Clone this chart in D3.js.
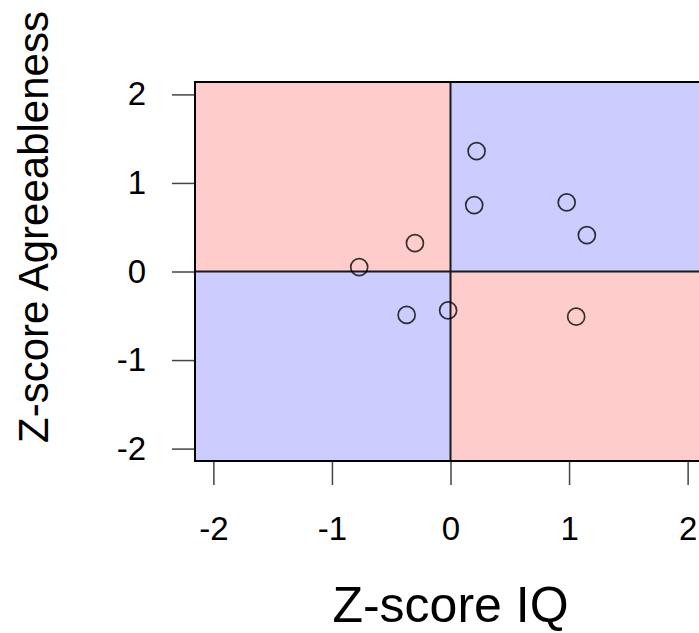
<!DOCTYPE html>
<html>
<head>
<meta charset="utf-8">
<script src="https://cdn.jsdelivr.net/npm/d3@7"></script>
<style>
  html, body { margin: 0; padding: 0; background: #fff; }
  svg { display: block; }
  text { font-family: "Liberation Sans", Arial, Helvetica, sans-serif; fill: #000; }
</style>
</head>
<body>
<svg id="chart" width="699" height="633"></svg>
<script>
// Standardised scores for each participant
const iqZ    = [0.22, 0.20, 0.98, 1.15, -0.30, -0.77, -0.37, -0.02, 1.06];
const agreeZ = [1.36, 0.75, 0.78, 0.41, 0.32, 0.05, -0.49, -0.44, -0.51];

const xTicks = [-2, -1, 0, 1, 2];
const yTicks = [-2, -1, 0, 1, 2];

// Quadrants: same-sign (concordant) in blue, opposite-sign in pink
const quadrants = [
  { x0: -Infinity, x1: 0, y0: 0, y1: Infinity, fill: "#ffcccc" },
  { x0: 0, x1: Infinity, y0: 0, y1: Infinity, fill: "#ccccff" },
  { x0: -Infinity, x1: 0, y0: -Infinity, y1: 0, fill: "#ccccff" },
  { x0: 0, x1: Infinity, y0: -Infinity, y1: 0, fill: "#ffcccc" }
];

const svg = d3.select("#chart");

const x = d3.scaleLinear().domain([-2.155, 2.155]).range([195, 706]);
const y = d3.scaleLinear().domain([-2.14, 2.14]).range([461, 82]);

const [xmin, xmax] = x.domain();
const [ymin, ymax] = y.domain();
const clampX = v => Math.max(xmin, Math.min(xmax, v));
const clampY = v => Math.max(ymin, Math.min(ymax, v));

// Quadrant backgrounds
svg.append("g").selectAll("rect")
  .data(quadrants)
  .join("rect")
  .attr("x", d => x(clampX(d.x0)))
  .attr("y", d => y(clampY(d.y1)))
  .attr("width", d => x(clampX(d.x1)) - x(clampX(d.x0)))
  .attr("height", d => y(clampY(d.y0)) - y(clampY(d.y1)))
  .attr("fill", d => d.fill);

// Zero reference lines
svg.append("line")
  .attr("x1", x(0)).attr("x2", x(0))
  .attr("y1", y(ymin)).attr("y2", y(ymax))
  .attr("stroke", "#1a1a1a").attr("stroke-width", 2);
svg.append("line")
  .attr("x1", x(xmin)).attr("x2", x(xmax))
  .attr("y1", y(0)).attr("y2", y(0))
  .attr("stroke", "#1a1a1a").attr("stroke-width", 2);

// Data points as open circles
svg.append("g").selectAll("circle")
  .data(iqZ.map((v, i) => ({ iq: v, ag: agreeZ[i] })))
  .join("circle")
  .attr("cx", d => x(d.iq))
  .attr("cy", d => y(d.ag))
  .attr("r", 8.5)
  .attr("fill", "none")
  .attr("stroke", "#000")
  .attr("stroke-opacity", 0.78)
  .attr("stroke-width", 1.7);

// Plot frame
svg.append("rect")
  .attr("x", x(xmin)).attr("y", y(ymax))
  .attr("width", x(xmax) - x(xmin))
  .attr("height", y(ymin) - y(ymax))
  .attr("fill", "none")
  .attr("stroke", "#000")
  .attr("stroke-width", 2);

// Axes
const xAxis = svg.append("g")
  .attr("transform", `translate(0,${y(ymin) + 1})`)
  .call(d3.axisBottom(x).tickValues(xTicks).tickFormat(d3.format("d")).tickSize(23).tickPadding(32));
const yAxis = svg.append("g")
  .attr("transform", `translate(${x(xmin) - 1},0)`)
  .call(d3.axisLeft(y).tickValues(yTicks).tickFormat(d3.format("d")).tickSize(22).tickPadding(26));

[xAxis, yAxis].forEach(g => {
  g.attr("font-size", null).attr("font-family", null);
  g.select(".domain").remove();
  g.selectAll(".tick line").attr("stroke", "#444").attr("stroke-width", 1.5);
  g.selectAll(".tick text")
    .style("font-family", "'Liberation Sans', Arial, sans-serif")
    .style("font-size", "33px")
    .style("fill", "#000");
});
// Use a plain hyphen for negative tick labels
svg.selectAll(".tick text").text(d => String(d).replace("\u2212", "-"));

// Axis titles
svg.append("text")
  .attr("x", x(0))
  .attr("y", 622)
  .attr("text-anchor", "middle")
  .style("font-size", "50px")
  .text("Z-score IQ");

svg.append("text")
  .attr("transform", "translate(48,227) rotate(-90)")
  .attr("text-anchor", "middle")
  .style("font-size", "42px")
  .text("Z-score Agreeableness");
</script>
</body>
</html>
